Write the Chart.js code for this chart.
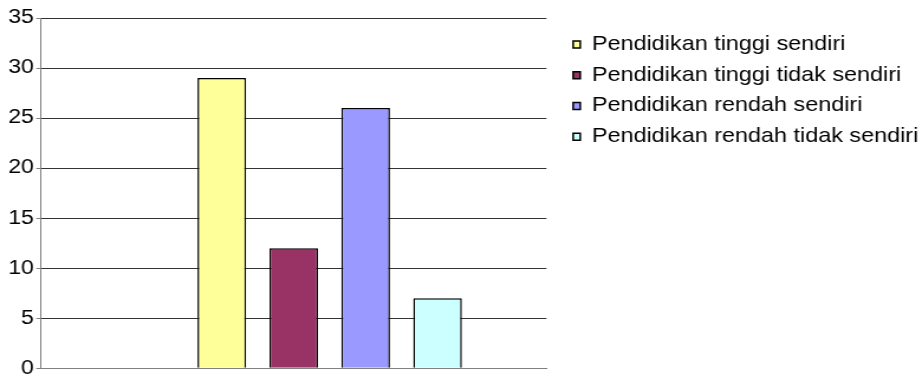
<!DOCTYPE html>
<html lang="id">
<head>
    <meta charset="UTF-8">
    <title>Pendidikan dan status tinggal</title>
    <script src="https://cdn.jsdelivr.net/npm/chart.js"></script>
    <style>
        body {
            margin: 0;
            background: #ffffff;
        }
        /* the chart is drawn on a narrower canvas and stretched sideways */
        #eduChart {
            display: block;
            width: 922px;
            height: 380px;
        }
    </style>
</head>
<body>
    <canvas id="eduChart" width="780" height="380" style="width:922px;height:380px"></canvas>

    <script>
        const categories = [''];
        const seriesNames = [
            'Pendidikan tinggi sendiri',
            'Pendidikan tinggi tidak sendiri',
            'Pendidikan rendah sendiri',
            'Pendidikan rendah tidak sendiri'
        ];
        const seriesValues = [29, 12, 26, 7];
        const seriesColors = ['#FFFF99', '#993366', '#9999FF', '#CCFFFF'];
        const yTicks = [0, 5, 10, 15, 20, 25, 30, 35];

        const tickFont = { family: '"Liberation Sans", Arial, sans-serif', size: 19.5, lineHeight: 1 };
        const legendFont = { family: '"Liberation Sans", Arial, sans-serif', size: 19.8 };

        // an empty first slot keeps the bar group shifted like the original layout
        const datasets = [{
            label: '',
            data: [null],
            backgroundColor: 'transparent'
        }].concat(seriesNames.map((name, i) => ({
            label: name,
            data: [seriesValues[i]],
            backgroundColor: seriesColors[i],
            borderColor: '#000000',
            borderWidth: 1.5
        })));

        new Chart(document.getElementById('eduChart'), {
            type: 'bar',
            data: {
                labels: categories,
                datasets: datasets
            },
            options: {
                responsive: false,
                devicePixelRatio: 1,
                animation: false,
                layout: {
                    padding: { top: 18, bottom: 11, left: 0, right: -6.8 }
                },
                datasets: {
                    bar: {
                        categoryPercentage: 0.7115,
                        barPercentage: 0.676
                    }
                },
                plugins: {
                    tooltip: { enabled: false },
                    legend: {
                        position: 'right',
                        align: 'start',
                        maxWidth: 330,
                        // empty title only pushes the items down a little
                        title: {
                            display: true,
                            text: '',
                            padding: 0,
                            font: { size: 5.5, lineHeight: 1 }
                        },
                        labels: {
                            filter: item => item.text !== '',
                            boxWidth: 6,
                            boxHeight: 7,
                            padding: 11,
                            color: '#000000',
                            font: legendFont
                        }
                    }
                },
                scales: {
                    x: {
                        grid: { display: false },
                        ticks: { display: false },
                        border: { color: '#808080', width: 1 },
                        afterFit: scale => { scale.height = 0; }
                    },
                    y: {
                        min: 0,
                        max: yTicks[yTicks.length - 1],
                        afterBuildTicks: scale => {
                            scale.ticks = yTicks.map(v => ({ value: v }));
                        },
                        ticks: {
                            color: '#000000',
                            font: tickFont,
                            padding: 2
                        },
                        grid: {
                            color: '#333333',
                            tickColor: '#808080',
                            tickLength: 4
                        },
                        border: { color: '#808080', width: 1 },
                        afterFit: scale => { scale.width = 34.7; }
                    },
                    // spacer between plot and legend
                    gap: {
                        type: 'linear',
                        position: 'right',
                        grid: { display: false },
                        ticks: { display: false },
                        border: { display: false },
                        afterFit: scale => { scale.width = 11.6; }
                    }
                }
            }
        });
    </script>
</body>
</html>
